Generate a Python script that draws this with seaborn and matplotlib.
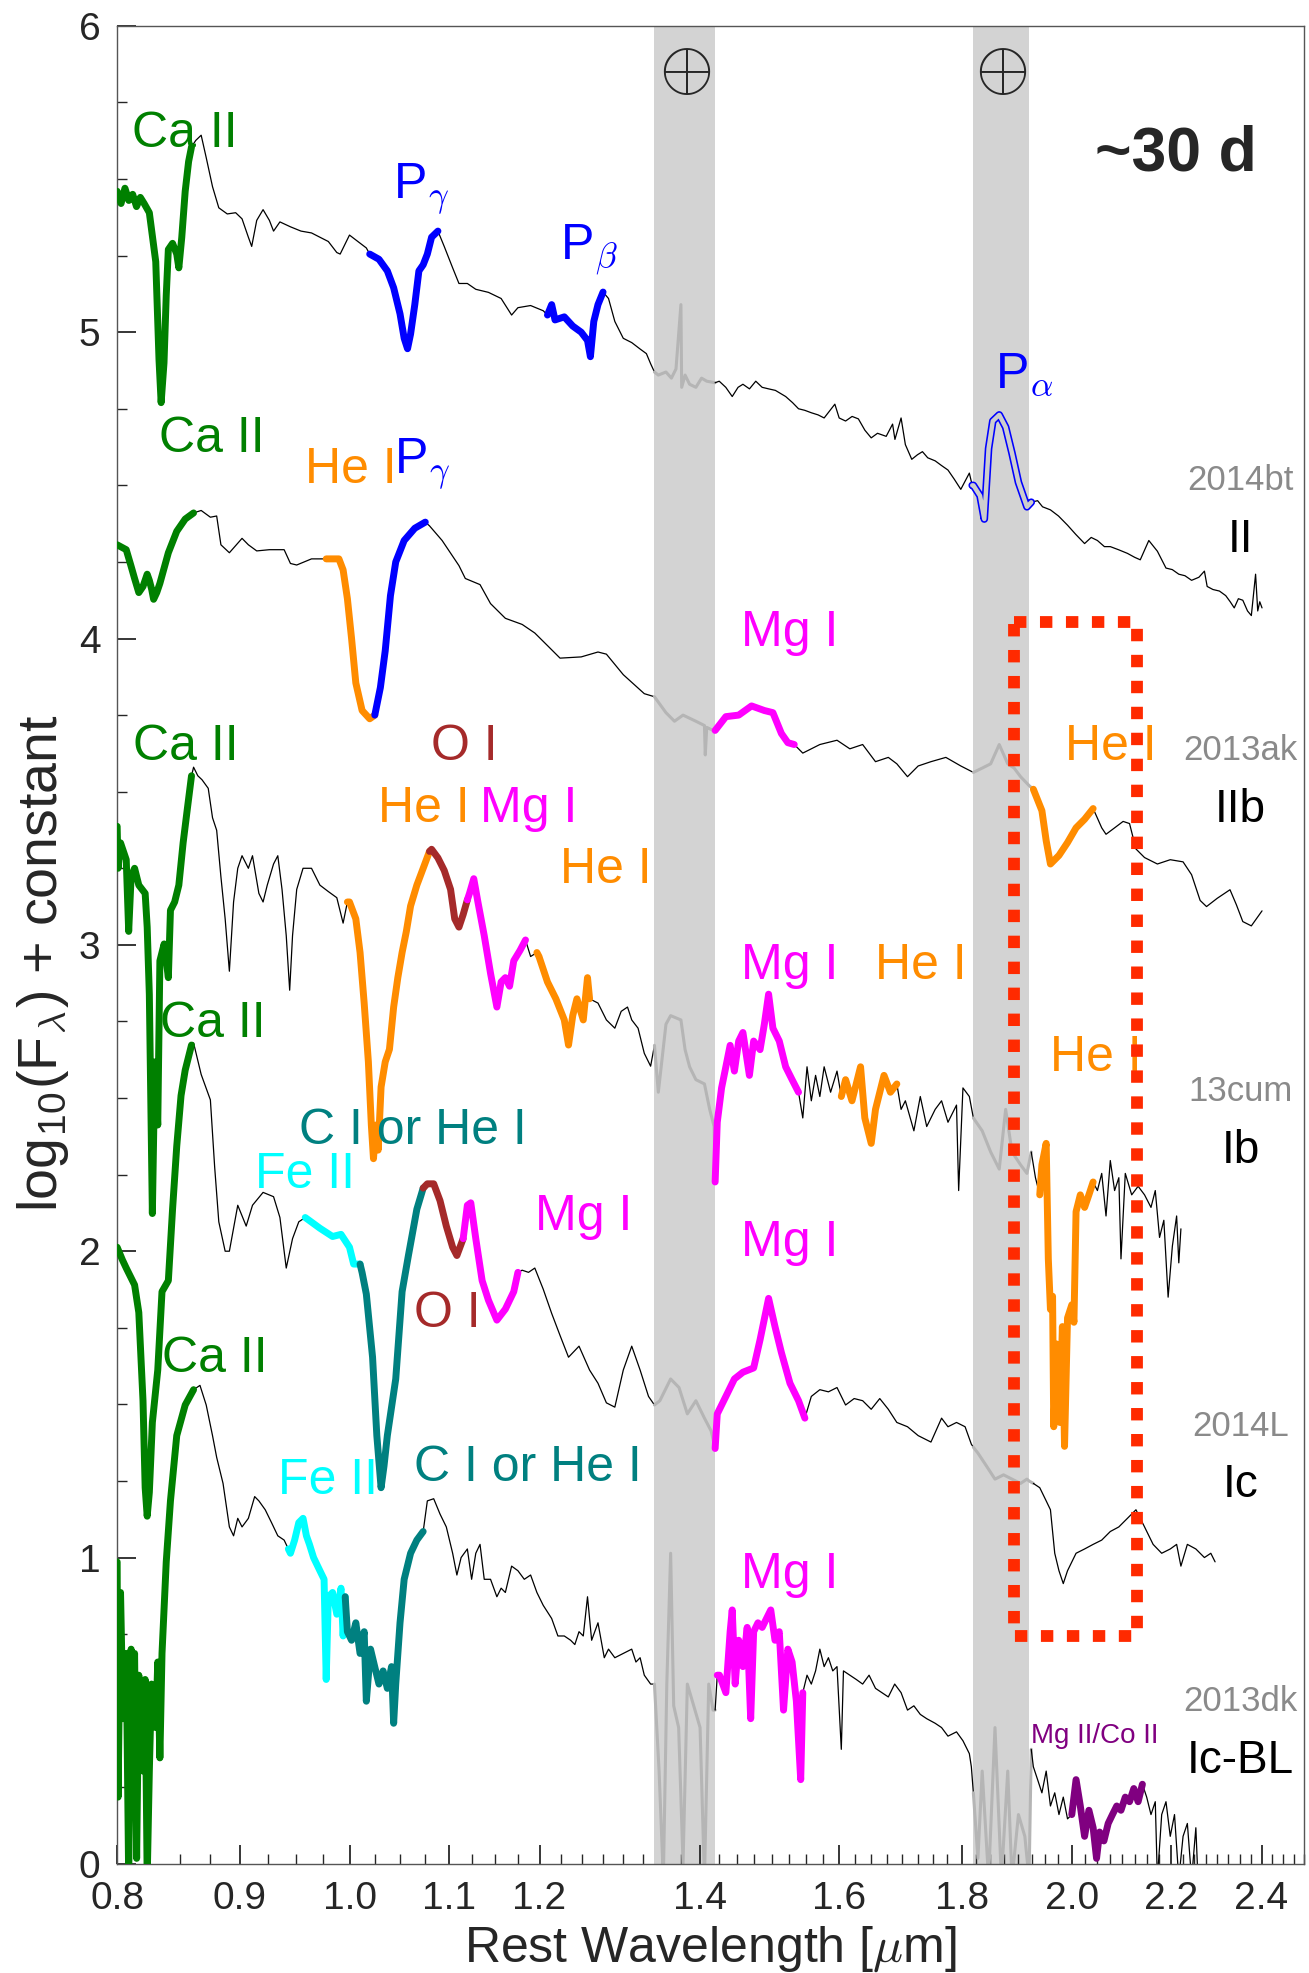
import numpy as np
import matplotlib
matplotlib.use('Agg')
import matplotlib.pyplot as plt
import seaborn as sns
from matplotlib.ticker import FixedLocator, MultipleLocator, NullFormatter

# ---- spectra (rest wavelength in micron, log flux + offset) ----
wl_14bt = [0.800, 0.803, 0.806, 0.809, 0.812, 0.815, 0.818, 0.821, 0.8251, 0.8302, 0.8328, 0.8345, 0.8368,
           0.8386, 0.8403, 0.8437, 0.8471, 0.8488, 0.8512, 0.8540, 0.8568, 0.8592,
           0.8627, 0.8672, 0.8714, 0.8767, 0.8820, 0.8892, 0.8964, 0.9019, 0.9074, 0.9103, 0.9147, 0.9203,
           0.9259, 0.9296, 0.9353, 0.9448, 0.9544, 0.9641, 0.9719, 0.9798, 0.9878, 0.9910, 0.9999, 1.0080, 1.0162,
           1.0195, 1.0286, 1.0369, 1.0432, 1.0496, 1.0538, 1.0572, 1.0603, 1.0646, 1.0688, 1.0732, 1.0775, 1.0819, 1.0885,
           1.0951, 1.1040, 1.1107, 1.1197, 1.1288, 1.1426, 1.1566, 1.1683, 1.1754, 1.1898, 1.2043,
           1.2092, 1.2141, 1.2180, 1.2289, 1.2389, 1.2490, 1.2566, 1.2601, 1.2642, 1.2693, 1.2755,
           1.2822, 1.2900, 1.3005, 1.3111, 1.3217, 1.3297, 1.3351,
           1.3400, 1.3450, 1.3549, 1.3620, 1.3680, 1.3745, 1.3755, 1.3800, 1.3860, 1.3944, 1.4020, 1.4090, 1.4204,
           1.4260, 1.4350, 1.4439, 1.4520, 1.4588, 1.4680, 1.4769, 1.4860, 1.4952, 1.5050, 1.5199, 1.5300, 1.5388,
           1.5480, 1.5578, 1.5680, 1.5771, 1.5934, 1.6000, 1.6099, 1.6200, 1.6298, 1.6400, 1.6500, 1.6600, 1.6739,
           1.6842, 1.6880, 1.6980, 1.7050, 1.7155, 1.7250, 1.7332, 1.7420, 1.7545, 1.7650, 1.7762, 1.7870, 1.7982,
           1.8130, 1.8180,
           1.8200, 1.8317, 1.8392, 1.8468, 1.8543, 1.8658, 1.8773, 1.8888, 1.9005, 1.9161, 1.9240,
           1.9358, 1.9450, 1.9598, 1.9750, 1.9922, 2.0080, 2.0251, 2.0380, 2.0502, 2.0640, 2.0757, 2.0920, 2.1101,
           2.1250, 2.1363, 2.1539, 2.1717, 2.1897, 2.2030, 2.2168, 2.2300, 2.2442, 2.2600, 2.2720, 2.2780, 2.2907,
           2.3050, 2.3190, 2.3290, 2.3380, 2.3473, 2.3573, 2.3680, 2.3767, 2.3864, 2.3913, 2.3960, 2.4012]
fx_14bt = [5.46, 5.42, 5.47, 5.43, 5.45, 5.41, 5.44, 5.42, 5.39, 5.23, 4.91, 4.77, 4.90,
           5.12, 5.27, 5.29, 5.255, 5.21, 5.31, 5.46, 5.557, 5.605,
           5.626, 5.643, 5.57, 5.475, 5.406, 5.386, 5.39, 5.37, 5.31, 5.28, 5.365, 5.40,
           5.365, 5.33, 5.36, 5.344, 5.33, 5.324, 5.31, 5.296, 5.26, 5.255, 5.317, 5.296, 5.275,
           5.255, 5.238, 5.20, 5.145, 5.06, 4.98, 4.946, 4.994, 5.09, 5.20, 5.22, 5.255, 5.31, 5.33,
           5.28, 5.21, 5.159, 5.159, 5.14, 5.13, 5.11, 5.056, 5.08, 5.087, 5.07,
           5.056, 5.09, 5.04, 5.05, 5.02, 5.00, 4.973, 4.92, 5.035, 5.09, 5.131,
           5.11, 5.035, 4.98, 4.966, 4.945, 4.93, 4.897,
           4.87, 4.86, 4.87, 4.85, 4.88, 5.09, 4.82, 4.86, 4.83, 4.82, 4.85, 4.84, 4.835,
           4.84, 4.82, 4.79, 4.82, 4.83, 4.815, 4.84, 4.82, 4.815, 4.81, 4.79, 4.77, 4.75,
           4.745, 4.737, 4.73, 4.72, 4.765, 4.72, 4.71, 4.725, 4.717, 4.68, 4.655, 4.67, 4.66,
           4.70, 4.65, 4.72, 4.633, 4.585, 4.60, 4.61, 4.59, 4.58, 4.565, 4.55, 4.52, 4.487,
           4.54, 4.50,
           4.50, 4.466, 4.39, 4.62, 4.71, 4.73, 4.69, 4.605, 4.51, 4.43, 4.445,
           4.45, 4.43, 4.42, 4.40, 4.37, 4.34, 4.31, 4.33, 4.32, 4.30, 4.30, 4.29, 4.278,
           4.265, 4.257, 4.32, 4.285, 4.23, 4.225, 4.21, 4.205, 4.19, 4.20, 4.22, 4.17, 4.16,
           4.155, 4.14, 4.12, 4.10, 4.13, 4.125, 4.09, 4.075, 4.21, 4.09, 4.12, 4.10]

wl_13ak = [0.800, 0.807, 0.8105, 0.8135, 0.8168, 0.8201, 0.8234, 0.8251, 0.827, 0.8285, 0.831, 0.8335, 0.8403,
           0.8471, 0.8540, 0.8609,
           0.8672, 0.8749, 0.8802, 0.8838, 0.8910, 0.9019, 0.9074, 0.9147, 0.9259, 0.9391, 0.9448, 0.9505, 0.9641, 0.9778,
           0.9898, 0.9938, 0.9979, 1.0019, 1.0060, 1.0121, 1.0195, 1.0245,
           1.0300, 1.0348, 1.0400, 1.0453, 1.0538, 1.0646, 1.0754,
           1.0797, 1.0929, 1.1107, 1.1175, 1.1334, 1.1449, 1.1613, 1.1802, 1.1946, 1.2092, 1.2239, 1.2490, 1.2693,
           1.2796, 1.3005, 1.3270, 1.3400,
           1.3549, 1.3660, 1.3773, 1.3944, 1.4059, 1.4070, 1.4090, 1.4175, 1.4204,
           1.4351, 1.4529, 1.4709, 1.4891, 1.5014, 1.5137, 1.5231, 1.5325,
           1.5451, 1.5706, 1.5967, 1.6165, 1.6365, 1.6568, 1.6773, 1.6911, 1.7085, 1.7261, 1.7474, 1.7726, 1.7982, 1.8200,
           1.8355, 1.8505, 1.8658, 1.8811, 1.8927, 1.9044, 1.9200,
           1.9279, 1.9438, 1.9518, 1.9598, 1.9759, 1.9922, 2.0086, 2.0251, 2.0418,
           2.0587, 2.0672, 2.0843, 2.1014, 2.1144, 2.1275, 2.1451, 2.1717, 2.1987, 2.2259, 2.2442, 2.2627, 2.2766,
           2.3001, 2.3285, 2.3428, 2.3573, 2.3767, 2.4012]
fx_13ak = [4.306, 4.29, 4.24, 4.196, 4.15, 4.17, 4.21, 4.19, 4.16, 4.128, 4.15, 4.18, 4.28,
           4.35, 4.39, 4.41,
           4.418, 4.396, 4.40, 4.306, 4.28, 4.327, 4.306, 4.286, 4.29, 4.29, 4.245, 4.24, 4.26, 4.26,
           4.26, 4.224, 4.13, 4.00, 3.855, 3.765, 3.738, 3.75,
           3.84, 3.96, 4.14, 4.25, 4.32, 4.36, 4.38,
           4.368, 4.32, 4.238, 4.196, 4.176, 4.114, 4.066, 4.046, 4.018, 3.977, 3.936, 3.94, 3.956,
           3.949, 3.882, 3.82, 3.81,
           3.758, 3.73, 3.75, 3.73, 3.716, 3.62, 3.71, 3.70, 3.70,
           3.745, 3.75, 3.78, 3.765, 3.758, 3.69, 3.66, 3.654,
           3.626, 3.654, 3.668, 3.64, 3.654, 3.598, 3.612, 3.591, 3.549, 3.584, 3.598, 3.612, 3.584, 3.563,
           3.577, 3.591, 3.654, 3.591, 3.577, 3.549, 3.52,
           3.508, 3.438, 3.34, 3.264, 3.292, 3.334, 3.382, 3.41, 3.445,
           3.382, 3.361, 3.382, 3.403, 3.396, 3.313, 3.285, 3.264, 3.278, 3.271, 3.229, 3.145, 3.125,
           3.152, 3.18, 3.131, 3.076, 3.062, 3.111]

wl_13cum = [0.800, 0.8007, 0.8026, 0.8070, 0.8089, 0.8108, 0.8135, 0.8168, 0.8218, 0.8234, 0.8251, 0.8275, 0.8295,
            0.8318, 0.8335, 0.8369, 0.8403, 0.8420, 0.8454, 0.8488, 0.8523, 0.8557, 0.8592,
            0.8609, 0.8644, 0.8679, 0.8731, 0.8767, 0.8802, 0.8838, 0.8874, 0.8910, 0.8946, 0.8982, 0.9019, 0.9074,
            0.9110, 0.9166, 0.9203, 0.9240, 0.9296, 0.9334, 0.9372, 0.9410, 0.9441, 0.9467, 0.9505, 0.9563, 0.9641,
            0.9719, 0.9798, 0.9878, 0.9938, 0.9979,
            0.9999, 1.0060, 1.0101, 1.0141, 1.0182, 1.0211, 1.0232, 1.0257, 1.0278, 1.0307, 1.0348, 1.0390, 1.0432,
            1.0474, 1.0517, 1.0560, 1.0603, 1.0667, 1.0732, 1.0797,
            1.0819, 1.0885, 1.0951, 1.1018, 1.1062, 1.1107, 1.1152, 1.1197,
            1.1220, 1.1266, 1.1311, 1.1380, 1.1449, 1.1519, 1.1566, 1.1613, 1.1660, 1.1707, 1.1778, 1.1840,
            1.1898, 1.1970,
            1.1994, 1.2092, 1.2190, 1.2289, 1.2339, 1.2389, 1.2439, 1.2515, 1.2566, 1.2591,
            1.2693, 1.2796, 1.2900, 1.2979, 1.3058, 1.3111, 1.3191, 1.3270, 1.3351,
            1.3400, 1.3450, 1.3549, 1.3610, 1.3745, 1.3800, 1.3860, 1.3944, 1.4059, 1.4130, 1.4190,
            1.4204, 1.4233, 1.4292, 1.4351, 1.4410, 1.4469, 1.4529, 1.4588, 1.4679, 1.4739, 1.4830, 1.4891, 1.4952,
            1.5014, 1.5106, 1.5199, 1.5293, 1.5388,
            1.5451, 1.5514, 1.5578, 1.5642, 1.5706, 1.5771, 1.5869, 1.5967, 1.6033,
            1.6099, 1.6198, 1.6332, 1.6399, 1.6500, 1.6568, 1.6704, 1.6807, 1.6911,
            1.6980, 1.7050, 1.7190, 1.7296, 1.7403, 1.7545, 1.7653, 1.7762, 1.7908, 1.7945, 1.8019, 1.8130,
            1.8200, 1.8355, 1.8505, 1.8658, 1.8773, 1.8888, 1.9044, 1.9161,
            1.9240, 1.9318, 1.9398,
            1.9438, 1.9518, 1.9558, 1.9598, 1.9638, 1.9660, 1.9719, 1.9775, 1.9824, 1.9865, 1.9922, 2.0004, 2.0045,
            2.0086, 2.0168, 2.0251, 2.0335, 2.0418,
            2.0502, 2.0587, 2.0672, 2.0757, 2.0843, 2.0928, 2.0971, 2.1058, 2.1188, 2.1319, 2.1451, 2.1584, 2.1673,
            2.1762, 2.1852, 2.1942, 2.2032, 2.2122, 2.2168, 2.2213]
fx_13cum = [3.387, 3.25, 3.333, 3.278, 3.044, 3.223, 3.25, 3.195, 3.168, 3.058, 2.838, 2.123, 2.618,
            2.412, 2.948, 3.003, 2.893, 3.113, 3.14, 3.195, 3.333, 3.442, 3.552,
            3.58, 3.552, 3.539, 3.511, 3.415, 3.374, 3.222, 3.085, 2.914, 3.14, 3.25, 3.291, 3.25,
            3.291, 3.168, 3.14, 3.195, 3.264, 3.291, 3.181, 3.03, 2.852, 3.03, 3.181, 3.25, 3.25,
            3.195, 3.174, 3.154, 3.071, 3.14,
            3.14, 3.085, 2.975, 2.81, 2.618, 2.412, 2.302, 2.412, 2.33, 2.536, 2.618, 2.659, 2.797,
            2.893, 2.975, 3.044, 3.127, 3.195, 3.25, 3.305,
            3.312, 3.284, 3.243, 3.181, 3.085, 3.058, 3.099, 3.147,
            3.168, 3.216, 3.14, 3.03, 2.907, 2.797, 2.879, 2.893, 2.865, 2.948, 2.982, 3.016,
            2.962, 2.975,
            2.962, 2.879, 2.824, 2.755, 2.673, 2.769, 2.824, 2.755, 2.893, 2.824,
            2.81, 2.755, 2.728, 2.783, 2.797, 2.755, 2.728, 2.646, 2.604,
            2.672, 2.519, 2.741, 2.769, 2.755, 2.658, 2.602, 2.56, 2.546, 2.463, 2.407,
            2.226, 2.421, 2.533, 2.602, 2.672, 2.588, 2.686, 2.714, 2.574, 2.686, 2.658, 2.741, 2.839,
            2.728, 2.686, 2.602, 2.56, 2.519,
            2.435, 2.602, 2.491, 2.574, 2.505, 2.602, 2.519, 2.588, 2.505,
            2.56, 2.491, 2.602, 2.435, 2.352, 2.463, 2.574, 2.519, 2.546,
            2.463, 2.491, 2.393, 2.505, 2.407, 2.463, 2.491, 2.421, 2.477, 2.198, 2.533, 2.505,
            2.435, 2.393, 2.324, 2.268, 2.463, 2.324, 2.282, 2.254,
            2.324, 2.24, 2.184,
            2.282, 2.352, 1.975, 1.81, 1.853, 1.427, 1.697, 1.441, 1.754, 1.363, 1.782, 1.825, 1.768,
            2.129, 2.184, 2.143, 2.184, 2.226,
            2.198, 2.254, 2.115, 2.296, 2.198, 2.24, 1.975, 2.254, 2.184, 2.212, 2.184, 2.143, 2.198,
            2.045, 2.101, 1.85, 2.017, 2.115, 1.962, 2.073]

wl_14L = [0.800, 0.804, 0.807, 0.8135, 0.8168, 0.8201, 0.8218, 0.8234, 0.8251, 0.8275, 0.8318, 0.8352, 0.8403,
          0.8437, 0.8471, 0.8506, 0.8540, 0.8592,
          0.8609, 0.8672, 0.8749, 0.8785, 0.8820, 0.8874, 0.8910, 0.8982, 0.9055, 0.9110, 0.9203, 0.9296, 0.9353,
          0.9410, 0.9467, 0.9524, 0.9583,
          0.9719, 0.9838, 0.9918, 0.9999, 1.0039, 1.0101,
          1.0121, 1.0162, 1.0223, 1.0265, 1.0307, 1.0336, 1.0369, 1.0453, 1.0517, 1.0581, 1.0667, 1.0732,
          1.0775, 1.0841, 1.0907, 1.0973, 1.1040, 1.1085, 1.1152,
          1.1197, 1.1234, 1.1288, 1.1357, 1.1426, 1.1519, 1.1613, 1.1707, 1.1754,
          1.1802, 1.1874, 1.1946, 1.2043, 1.2141, 1.2239, 1.2339, 1.2464, 1.2591, 1.2693, 1.2796, 1.2900, 1.3005,
          1.3111, 1.3217, 1.3324,
          1.3400, 1.3470, 1.3610, 1.3720, 1.3830, 1.3944, 1.4059, 1.4150, 1.4204,
          1.4233, 1.4351, 1.4469, 1.4588, 1.4739, 1.4830, 1.4952, 1.5044, 1.5137, 1.5262, 1.5388, 1.5482,
          1.5578, 1.5706, 1.5836, 1.5967, 1.6099, 1.6232, 1.6365, 1.6500, 1.6636, 1.6773, 1.6911, 1.7085, 1.7261,
          1.7474, 1.7653, 1.7762, 1.7908, 1.8056, 1.8165,
          1.8200, 1.8280, 1.8430, 1.8582, 1.8735, 1.8888, 1.9044, 1.9161, 1.9200,
          1.9279, 1.9398, 1.9518, 1.9598, 1.9679, 1.9759, 1.9841, 1.9922, 2.0086, 2.0251, 2.0418, 2.0587, 2.0757,
          2.0928, 2.1101, 2.1275, 2.1363, 2.1451, 2.1628, 2.1807, 2.1987, 2.2122, 2.2213, 2.2351, 2.2534, 2.2720,
          2.2860, 2.2954]
fx_14L = [2.013, 1.972, 1.945, 1.89, 1.80, 1.512, 1.228, 1.135, 1.213, 1.441, 1.612, 1.868, 1.904,
          2.137, 2.343, 2.508, 2.591, 2.673,
          2.68, 2.577, 2.494, 2.275, 2.096, 2.00, 2.00, 2.15, 2.082, 2.15, 2.192, 2.178, 2.11,
          1.945, 2.041, 2.096, 2.11,
          2.075, 2.048, 2.055, 2.013, 1.958, 1.958,
          1.93, 1.86, 1.654, 1.398, 1.228, 1.299, 1.398, 1.583, 1.868, 1.986, 2.137, 2.206,
          2.22, 2.22, 2.165, 2.082, 2.013, 1.986, 2.041,
          2.15, 2.158, 2.041, 1.904, 1.84, 1.775, 1.811, 1.868, 1.931,
          1.938, 1.931, 1.945, 1.876, 1.797, 1.725, 1.654, 1.69, 1.612, 1.569, 1.505, 1.491, 1.612,
          1.69, 1.612, 1.526,
          1.498, 1.512, 1.583, 1.555, 1.469, 1.512, 1.455, 1.413, 1.356,
          1.469, 1.526, 1.583, 1.605, 1.619, 1.711, 1.846, 1.754, 1.669, 1.569, 1.512, 1.455,
          1.526, 1.548, 1.541, 1.555, 1.498, 1.519, 1.512, 1.484, 1.519, 1.484, 1.441, 1.427, 1.398,
          1.377, 1.455, 1.427, 1.441, 1.427, 1.37,
          1.36, 1.341, 1.299, 1.256, 1.27, 1.256, 1.242, 1.256, 1.25,
          1.242, 1.228, 1.185, 1.156, 1.014, 0.957, 0.915, 0.957, 1.014, 1.028, 1.043, 1.057, 1.085,
          1.10, 1.128, 1.156, 1.128, 1.10, 1.043, 1.014, 1.028, 1.043, 0.972, 1.043, 1.028, 1.00,
          1.014, 0.986]

wl_13dk = [0.800, 0.8007, 0.8026, 0.8045, 0.8070, 0.8089, 0.8108, 0.8121, 0.8135, 0.8151, 0.8168, 0.8201, 0.8218,
           0.8234, 0.8251, 0.8268, 0.8302, 0.8318, 0.8335, 0.8352, 0.8386, 0.8420, 0.8471, 0.8540, 0.8609,
           0.8662, 0.8714, 0.8767, 0.8802, 0.8856, 0.8910, 0.8946, 0.8982, 0.9019, 0.9074, 0.9129, 0.9166, 0.9222,
           0.9278, 0.9334, 0.9391, 0.9429,
           0.9448, 0.9486, 0.9524, 0.9563, 0.9594, 0.9622, 0.9660, 0.9719, 0.9758, 0.9778, 0.9798, 0.9838, 0.9878,
           0.9918, 0.9938, 0.9958,
           0.9979, 1.0019, 1.0060, 1.0101, 1.0141, 1.0162, 1.0203, 1.0244, 1.0286, 1.0327, 1.0369, 1.0411, 1.0432,
           1.0453, 1.0496, 1.0538, 1.0603, 1.0667, 1.0732,
           1.0775, 1.0841, 1.0907, 1.0973, 1.1040, 1.1085, 1.1130, 1.1197, 1.1243, 1.1288, 1.1334, 1.1380, 1.1449,
           1.1519, 1.1566, 1.1613, 1.1683, 1.1754, 1.1826, 1.1898, 1.1970, 1.2043, 1.2141, 1.2214, 1.2289, 1.2364,
           1.2414, 1.2464, 1.2515, 1.2566, 1.2616, 1.2693, 1.2770, 1.2822, 1.2900, 1.3005, 1.3111, 1.3164, 1.3217,
           1.3270, 1.3351,
           1.3400, 1.3460, 1.3515, 1.3560, 1.3610, 1.3650, 1.3715, 1.3773, 1.3830, 1.3915, 1.4000, 1.4059, 1.4117,
           1.4175, 1.4204,
           1.4233, 1.4263, 1.4351, 1.4410, 1.4439, 1.4480, 1.4529, 1.4588, 1.4648, 1.4697, 1.4739, 1.4800, 1.4860,
           1.4922, 1.4983, 1.5044, 1.5106, 1.5168, 1.5231, 1.5293, 1.5356, 1.5420, 1.5451,
           1.5514, 1.5578, 1.5642, 1.5706, 1.5771, 1.5836, 1.5902, 1.5967, 1.6033, 1.6066, 1.6165, 1.6265, 1.6365,
           1.6466, 1.6568, 1.6670, 1.6773, 1.6876, 1.6980, 1.7085, 1.7190, 1.7296, 1.7403, 1.7545, 1.7653, 1.7762,
           1.7908, 1.8019, 1.8130, 1.8165,
           1.8200, 1.8280, 1.8355, 1.8468, 1.8582, 1.8697, 1.8811, 1.8888, 1.9005, 1.9122, 1.9200,
           1.9240, 1.9279, 1.9358, 1.9438, 1.9518, 1.9598, 1.9679, 1.9759, 1.9841, 1.9922,
           2.0004, 2.0086, 2.0168, 2.0251, 2.0335, 2.0418, 2.0485, 2.0545, 2.0630, 2.0715, 2.0800, 2.0886, 2.0971,
           2.1058, 2.1144, 2.1231, 2.1319, 2.1407,
           2.1495, 2.1584, 2.1673, 2.1717, 2.1807, 2.1897, 2.1987, 2.2077, 2.2168, 2.2259, 2.2351, 2.2442, 2.2534,
           2.2580]
fx_13dk = [0.986, 0.218, 0.886, 0.474, 0.687, -0.05, 0.701, 0.417, 0.687, 0.018, 0.616, 0.303, 0.602,
           -0.05, 0.303, 0.587, 0.445, 0.659, 0.346, 0.687, 0.986, 1.185, 1.398, 1.498, 1.548,
           1.562, 1.498, 1.398, 1.327, 1.242, 1.10, 1.071, 1.128, 1.10, 1.128, 1.199, 1.185, 1.156,
           1.114, 1.071, 1.057, 1.028,
           1.014, 1.057, 1.114, 1.128, 1.071, 1.043, 1.00, 0.957, 0.929, 0.602, 0.872, 0.886, 0.815,
           0.90, 0.744, 0.872,
           0.758, 0.73, 0.787, 0.687, 0.758, 0.531, 0.701, 0.644, 0.587, 0.63, 0.573, 0.644, 0.459,
           0.587, 0.787, 0.929, 1.014, 1.057, 1.085,
           1.185, 1.192, 1.142, 1.10, 1.014, 0.943, 1.00, 1.028, 0.929, 1.014, 1.043, 0.929, 0.929,
           0.872, 0.90, 0.886, 0.972, 0.957, 0.929, 0.943, 0.886, 0.844, 0.801, 0.744, 0.744, 0.73,
           0.716, 0.758, 0.744, 0.872, 0.73, 0.787, 0.673, 0.701, 0.673, 0.687, 0.701, 0.659, 0.673,
           0.616, 0.587,
           0.587, 0.303, -0.05, 0.587, 1.014, 0.516, 0.445, 0.0, 0.587, 0.516, 0.445, -0.05, 0.587,
           0.502, 0.502,
           0.616, 0.616, 0.559, 0.758, 0.829, 0.587, 0.73, 0.644, 0.772, 0.474, 0.758, 0.787, 0.772,
           0.801, 0.829, 0.73, 0.758, 0.502, 0.701, 0.659, 0.531, 0.275, 0.559,
           0.616, 0.587, 0.63, 0.701, 0.644, 0.673, 0.63, 0.644, 0.374, 0.63, 0.616, 0.602, 0.587,
           0.616, 0.573, 0.559, 0.545, 0.587, 0.559, 0.502, 0.516, 0.488, 0.474, 0.459, 0.445, 0.417,
           0.431, 0.402, 0.36, 0.317,
           0.232, 0.018, 0.303, -0.05, 0.445, -0.05, 0.303, -0.05, 0.161, 0.09, -0.05,
           0.374, 0.317, 0.275, 0.232, 0.303, 0.189, 0.232, 0.161, 0.218, 0.147,
           0.161, 0.275, 0.189, 0.09, 0.175, 0.118, 0.018, 0.104, 0.075, 0.132, 0.161, 0.189, 0.175,
           0.218, 0.203, 0.246, 0.203, 0.26,
           0.218, 0.161, 0.203, -0.05, 0.161, 0.203, 0.09, 0.161, -0.05, 0.09, 0.132, -0.05, 0.118,
           -0.05]

# highlighted line regions (start, end, colour)
feat_14bt = [(0.800, 0.8592, 'green'), (1.0195, 1.0885, 'blue'), (1.2092, 1.2755, 'blue')]
feat_13ak = [(0.800, 0.8609, 'green'), (0.9778, 1.0245, 'darkorange'), (1.0245, 1.0754, 'blue'),
             (1.4204, 1.5325, 'magenta'), (1.9279, 2.0418, 'darkorange')]
feat_13cum = [(0.800, 0.8592, 'green'), (0.9979, 1.0797, 'darkorange'), (1.0797, 1.1197, 'brown'),
              (1.1197, 1.1840, 'magenta'), (1.1970, 1.2591, 'darkorange'), (1.4204, 1.5388, 'magenta'),
              (1.6033, 1.6911, 'darkorange'), (1.9398, 2.0418, 'darkorange')]
feat_14L = [(0.800, 0.8592, 'green'), (0.9583, 1.0101, 'cyan'), (1.0101, 1.0732, 'teal'),
            (1.0732, 1.1152, 'brown'), (1.1152, 1.1754, 'magenta'), (1.4204, 1.5482, 'magenta')]
feat_13dk = [(0.800, 0.8609, 'green'), (0.9429, 0.9958, 'cyan'), (0.9958, 1.0732, 'teal'),
             (1.4233, 1.5451, 'magenta'), (2.0004, 2.1407, 'purple')]
palpha = (1.8180, 1.9240)

# telluric bands and the highlighted box
band_lo = [1.34, 1.82]
band_hi = [1.42, 1.92]
box_x = [1.8923, 2.1287, 2.1287, 1.8923, 1.8923]
box_y = [4.055, 4.055, 0.744, 0.744, 4.055]

# line identifications
lab_text = ['Ca II', 'P$_\\gamma$', 'P$_\\beta$', 'P$_\\alpha$',
            'Ca II', 'He I', 'P$_\\gamma$', 'Mg I', 'He I',
            'Ca II', 'O I', 'He I', 'Mg I', 'He I', 'Mg I', 'He I', 'He I',
            'Ca II', 'C I or He I', 'Fe II', 'Mg I', 'O I', 'Mg I',
            'Ca II', 'Fe II', 'C I or He I', 'Mg I']
lab_x = [0.8116, 1.0424, 1.2233, 1.8578,
         0.8327, 0.958, 1.0437, 1.4558, 1.9881,
         0.8119, 1.0818, 1.0272, 1.1334, 1.2234, 1.4558, 1.6568, 1.9582,
         0.8334, 0.9526, 0.9130, 1.1946, 1.0633, 1.4558,
         0.8353, 0.9339, 1.0633, 1.4558]
lab_y = [5.604, 5.437, 5.234, 4.82,
         4.61, 4.507, 4.54, 3.977, 3.605,
         3.603, 3.603, 3.401, 3.401, 3.202, 2.888, 2.888, 2.588,
         2.70, 2.35, 2.206, 2.068, 1.754, 1.983,
         1.605, 1.206, 1.249, 0.90]
lab_col = ['green', 'blue', 'blue', 'blue',
           'green', 'darkorange', 'blue', 'magenta', 'darkorange',
           'green', 'brown', 'darkorange', 'magenta', 'darkorange', 'magenta', 'darkorange', 'darkorange',
           'green', 'teal', 'cyan', 'magenta', 'brown', 'magenta',
           'green', 'cyan', 'teal', 'magenta']

sn_names = ['2014bt', '2013ak', '13cum', '2014L', '2013dk']
sn_types = ['II', 'IIb', 'Ib', 'Ic', 'Ic-BL']
name_y = [4.485, 3.602, 2.489, 1.398, 0.499]
type_y = [4.283, 3.40, 2.288, 1.199, 0.296]

xticks = [0.8, 0.9, 1.0, 1.1, 1.2, 1.4, 1.6, 1.8, 2.0, 2.2, 2.4]

sns.set_style('ticks')
plt.rcParams['font.family'] = ['Liberation Sans', 'DejaVu Sans']
plt.rcParams['mathtext.fontset'] = 'cm'

fig = plt.figure(figsize=(13.09, 19.73), dpi=100)
ax = fig.add_axes([0.0895, 0.0553, 0.9067, 0.9316])
ax.set_xscale('log')

for lo, hi in zip(band_lo, band_hi):
    ax.axvspan(lo, hi, color='lightgray', lw=0, zorder=0)


def in_band(w):
    m = np.zeros(len(w), bool)
    for lo, hi in zip(band_lo, band_hi):
        m |= (w >= lo - 1e-6) & (w <= hi + 1e-6)
    return m


def line(x, y, color, lw, z):
    sns.lineplot(x=x, y=y, sort=False, estimator=None, color=color, linewidth=lw,
                 ax=ax, zorder=z, legend=False)


spectra = [(wl_14bt, fx_14bt, feat_14bt), (wl_13ak, fx_13ak, feat_13ak), (wl_13cum, fx_13cum, feat_13cum),
           (wl_14L, fx_14L, feat_14L), (wl_13dk, fx_13dk, feat_13dk)]

for k, (wl, fx, feats) in enumerate(spectra):
    wl = np.array(wl)
    fx = np.array(fx)
    inb = in_band(wl)
    start = 0
    for i in range(1, len(wl) + 1):
        if i == len(wl) or inb[i] != inb[start]:
            stop = min(i + 1, len(wl))
            if inb[start]:
                line(wl[start:stop], fx[start:stop], '#b5b5b5', 2.2, 2)
            else:
                line(wl[start:stop], fx[start:stop], 'black', 0.9, 2)
            start = i
    for lo, hi, c in feats:
        m = (wl >= lo - 1e-6) & (wl <= hi + 1e-6)
        line(wl[m], fx[m], c, 5.0, 3)
    if k == 0:
        m = (wl >= palpha[0]) & (wl <= palpha[1])
        line(wl[m], fx[m], 'blue', 5.5, 3)
        line(wl[m], fx[m], '#cdcdcd', 3.2, 3.5)

ax.plot(box_x, box_y, color='#ff2a00', lw=8.5, linestyle=(0, (1.05, 1.15)), zorder=6,
        solid_capstyle='butt', dash_capstyle='butt')

for t, x, y, c in zip(lab_text, lab_x, lab_y, lab_col):
    ax.text(x, y, t, color=c, fontsize=36, ha='left', va='baseline', zorder=5)
ax.text(1.924, 0.395, 'Mg II/Co II', color='purple', fontsize=20, ha='left', va='baseline', zorder=5)

for n, t, yn, yt in zip(sn_names, sn_types, name_y, type_y):
    ax.text(2.3526, yn, n, color='#8a8a8a', fontsize=25, ha='center', va='baseline', zorder=5)
    ax.text(2.3526, yt, t, color='black', fontsize=33, ha='center', va='baseline', zorder=5)

for lo, hi in zip(band_lo, band_hi):
    ax.text(np.sqrt(lo * hi), 5.851, '$\\oplus$', fontsize=50, ha='center', va='center', zorder=5)
ax.text(2.39, 5.529, '~30 d', fontsize=45, fontweight='bold', ha='right', va='baseline', zorder=5)

ax.set_xlim(0.8, 2.5)
ax.set_ylim(0, 6)
ax.xaxis.set_major_locator(FixedLocator(xticks))
ax.set_xticklabels(['%.1f' % v for v in xticks])
ax.xaxis.set_minor_locator(MultipleLocator(0.025))
ax.xaxis.set_minor_formatter(NullFormatter())
ax.yaxis.set_major_locator(MultipleLocator(1))
ax.yaxis.set_minor_locator(MultipleLocator(0.25))
ax.tick_params(which='major', direction='in', length=14, width=1.3, labelsize=28, pad=12,
               top=False, right=False)
ax.tick_params(which='minor', direction='in', length=7, width=1.0, top=False, right=False)
for s in ax.spines.values():
    s.set_color('#555555')
    s.set_linewidth(1.0)

ax.set_xlabel('Rest Wavelength [$\\mu$m]', fontsize=36)
ax.set_ylabel('log$_{\\mathregular{10}}$(F$_\\lambda$) + constant', fontsize=40)
ax.xaxis.set_label_coords(0.5, -0.033)
ax.yaxis.set_label_coords(-0.039, 0.49)

fig.savefig('out.png', dpi=100)
